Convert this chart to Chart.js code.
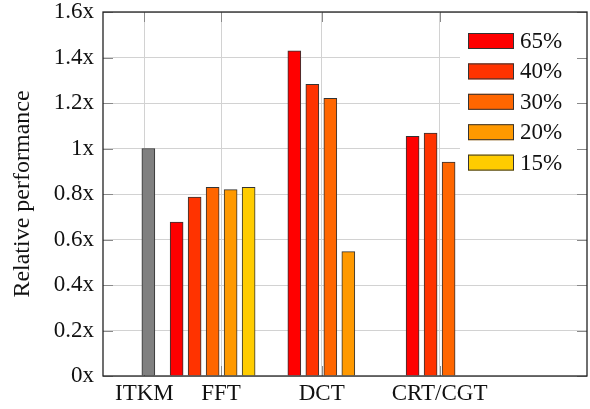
<!DOCTYPE html>
<html>
<head>
<meta charset="utf-8">
<script src="https://cdn.jsdelivr.net/npm/chart.js@4.4.1/dist/chart.umd.min.js"></script>
<style>
  html, body { margin: 0; padding: 0; background: #fff; }
  #wrap { width: 590px; height: 409px; }
</style>
</head>
<body>
<div id="wrap"><canvas id="chart" width="590" height="409"></canvas></div>
<script>
// categories along the x axis
const categories = ["ITKM", "FFT", "DCT", "CRT/CGT"];

// reference bar (ITKM baseline)
const baseline = [1.0, null, null, null];

// series values (relative performance)
const seriesLabels = ["65%", "40%", "30%", "20%", "15%"];
const v65 = [null, 0.677, 1.429, 1.053];
const v40 = [null, 0.787, 1.282, 1.068];
const v30 = [null, 0.829, 1.221, 0.940];
const v20 = [null, 0.819, 0.547, null];
const v15 = [null, 0.829, null, null];

// y ticks
const yTicks = [0, 0.2, 0.4, 0.6, 0.8, 1.0, 1.2, 1.4, 1.6];

// x axis layout (in bar slots): where each category tick sits, and where its first bar sits
const categoryPos = [2.3, 6.56, 12.15, 18.7];
const firstSlot = [0.22, -2.47, -1.52, -1.5];
const xMax = 26.89;

const seriesColors = ["#ff0000", "#ff3300", "#ff6600", "#ff9900", "#ffcc00"];
const FONT = "'Liberation Serif', 'Times New Roman', serif";

function toPoints(values, slot) {
  const pts = [];
  values.forEach((v, c) => {
    if (v === null) return;
    pts.push({ x: categoryPos[c] + firstSlot[c] + slot, y: v });
  });
  return pts;
}

const datasets = [
  {
    label: "ITKM",
    data: toPoints(baseline, 0),
    backgroundColor: "#808080",
    borderColor: "#333333",
    borderWidth: 1,
    legendSkip: true,
  },
];
[v65, v40, v30, v20, v15].forEach((vals, i) => {
  datasets.push({
    label: seriesLabels[i],
    data: toPoints(vals, i),
    backgroundColor: seriesColors[i],
    borderColor: "#333333",
    borderWidth: 1,
  });
});

// legend box, tick marks and frame drawn inside the plot like the original
const framePlugin = {
  id: "frame",
  beforeDatasetsDraw(chart) {
    const { ctx, chartArea: a, scales } = chart;
    ctx.save();
    // legend background hides the grid behind it
    ctx.fillStyle = "#ffffff";
    ctx.fillRect(a.right - 127, a.top + 9, 127, 157);
    // inner tick marks
    ctx.strokeStyle = "#8a8a8a";
    ctx.lineWidth = 1;
    ctx.beginPath();
    scales.y.ticks.forEach((t) => {
      const y = Math.round(scales.y.getPixelForValue(t.value)) + 0.5;
      ctx.moveTo(a.left, y); ctx.lineTo(a.left + 10, y);
      ctx.moveTo(a.right - 10, y); ctx.lineTo(a.right, y);
    });
    scales.x.ticks.forEach((t) => {
      const x = Math.round(scales.x.getPixelForValue(t.value)) + 0.5;
      ctx.moveTo(x, a.top); ctx.lineTo(x, a.top + 10);
      ctx.moveTo(x, a.bottom - 10); ctx.lineTo(x, a.bottom);
    });
    ctx.stroke();
    ctx.restore();
  },
  afterDraw(chart) {
    const { ctx, chartArea: a } = chart;
    ctx.save();
    // legend entries
    let row = 0;
    chart.data.datasets.forEach((ds) => {
      if (ds.legendSkip) return;
      const cy = a.top + 29 + row * 30.4;
      const bx = a.right - 119;
      ctx.fillStyle = ds.backgroundColor;
      ctx.fillRect(bx, cy - 8, 46, 16);
      ctx.strokeStyle = "#333333";
      ctx.lineWidth = 1;
      ctx.strokeRect(bx + 0.5, cy - 7.5, 45, 15);
      ctx.fillStyle = "#111111";
      ctx.font = "23px " + FONT;
      ctx.textBaseline = "middle";
      ctx.textAlign = "left";
      ctx.fillText(ds.label, a.right - 67, cy + 1);
      row++;
    });
    // axis frame
    ctx.strokeStyle = "#222222";
    ctx.lineWidth = 1.3;
    ctx.strokeRect(a.left, a.top, a.right - a.left, a.bottom - a.top);
    ctx.restore();
  },
};

new Chart(document.getElementById("chart"), {
  type: "bar",
  data: { datasets },
  options: {
    responsive: false,
    animation: false,
    grouped: false,
    barPercentage: 1,
    categoryPercentage: 1,
    maxBarThickness: 13,
    layout: { padding: { left: 0, right: 3, top: 12, bottom: 0 } },
    plugins: {
      legend: { display: false },
      tooltip: { enabled: false },
    },
    scales: {
      x: {
        type: "linear",
        min: 0,
        max: xMax,
        offset: false,
        grid: { color: "#d2d2d2", lineWidth: 1, drawTicks: false, offset: false },
        border: { display: false },
        afterBuildTicks: (scale) => {
          scale.ticks = categoryPos.map((v) => ({ value: v }));
        },
        afterFit: (scale) => {
          scale.height = 33;
          scale.paddingLeft = 0;
          scale.paddingRight = 0;
        },
        ticks: {
          autoSkip: false,
          maxRotation: 0,
          padding: 4,
          color: "#111111",
          font: { family: FONT, size: 23 },
          callback: (value, index) => categories[index],
        },
      },
      y: {
        min: 0,
        max: 1.6,
        grid: { color: "#d2d2d2", lineWidth: 1, drawTicks: false },
        border: { display: false },
        afterBuildTicks: (scale) => {
          scale.ticks = yTicks.map((v) => ({ value: v }));
        },
        afterFit: (scale) => {
          scale.width = 103;
          scale.paddingTop = 0;
          scale.paddingBottom = 0;
        },
        ticks: {
          padding: 9,
          color: "#111111",
          font: { family: FONT, size: 23, lineHeight: 1 },
          callback: (value) => parseFloat(Number(value).toFixed(1)) + "x",
        },
        title: {
          display: true,
          text: "Relative performance",
          color: "#111111",
          padding: { top: 11, bottom: 0 },
          font: { family: FONT, size: 24, lineHeight: 1 },
        },
      },
    },
  },
  plugins: [framePlugin],
});
</script>
</body>
</html>
